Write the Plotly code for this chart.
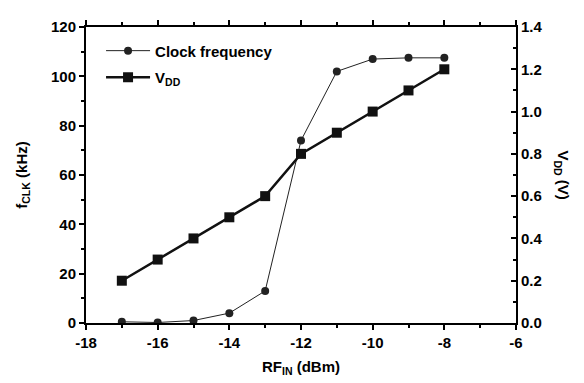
import plotly.graph_objects as go

rf_in = [-17, -16, -15, -14, -13, -12, -11, -10, -9, -8]
clock_khz = [0.5, 0.2, 1.0, 4.0, 13.0, 74.0, 102.0, 107.0, 107.5, 107.5]
vdd_v = [0.2, 0.3, 0.4, 0.5, 0.6, 0.8, 0.9, 1.0, 1.1, 1.2]

x_ticks = [-18, -16, -14, -12, -10, -8, -6]
x_labels = ["-18", "-16", "-14", "-12", "-10", "-8", "-6"]
y1_ticks = [0, 20, 40, 60, 80, 100, 120]
y1_labels = ["0", "20", "40", "60", "80", "100", "120"]
y2_ticks = [0.0, 0.2, 0.4, 0.6, 0.8, 1.0, 1.2, 1.4]
y2_labels = ["0.0", "0.2", "0.4", "0.6", "0.8", "1.0", "1.2", "1.4"]

FONT = "Liberation Sans, Arial, sans-serif"


def bold(labels):
    return ["<b>%s</b>" % s for s in labels]


fig = go.Figure()
fig.add_trace(go.Scatter(
    x=rf_in, y=clock_khz, name="<b>Clock frequency</b>", mode="lines+markers",
    legendgroup="a",
    line=dict(color="#222", width=1),
    marker=dict(symbol="circle", size=8, color="#222"),
))
fig.add_trace(go.Scatter(
    x=rf_in, y=vdd_v, name="<b>V<sub>DD</sub></b>", mode="lines+markers", yaxis="y2",
    legendgroup="b",
    line=dict(color="#111", width=2.5),
    marker=dict(symbol="square", size=10, color="#111"),
))

axis_common = dict(showline=True, linecolor="black", linewidth=2, showgrid=False,
                   zeroline=False, ticks="outside", ticklen=5, tickwidth=1.5,
                   tickcolor="black",
                   tickfont=dict(family=FONT, size=15, color="black"))

fig.update_layout(
    width=584, height=383,
    margin=dict(l=78, r=76, t=10, b=68),
    paper_bgcolor="white", plot_bgcolor="white",
    font=dict(family=FONT, color="black"),
    showlegend=True,
    legend=dict(x=0.035, y=0.975, xanchor="left", yanchor="top",
                bgcolor="rgba(0,0,0,0)", font=dict(family=FONT, size=15, color="black"),
                itemwidth=44, traceorder="grouped", tracegroupgap=4),
    xaxis=dict(range=[-18, -6], tickvals=x_ticks, ticktext=bold(x_labels),
               mirror="ticks",
               minor=dict(ticks="outside", ticklen=3, dtick=1, tickcolor="black"),
               title=dict(text="<b>RF<sub>IN</sub> (dBm)</b>", font=dict(size=15), standoff=11),
               **axis_common),
    yaxis=dict(range=[0, 120], tickvals=y1_ticks, ticktext=bold(y1_labels),
               minor=dict(ticks="outside", ticklen=3, dtick=10, tickcolor="black"),
               title=dict(text="<b>f<sub>CLK</sub> (kHz)</b>", font=dict(size=15), standoff=20),
               **axis_common),
    yaxis2=dict(range=[0, 1.4], tickvals=y2_ticks, ticktext=bold(y2_labels), overlaying="y", side="right",
                minor=dict(ticks="outside", ticklen=3, dtick=0.1, tickcolor="black"),
                **axis_common),
)
fig.update_layout(yaxis2_ticks="inside", yaxis2_minor_ticks="inside")

fig.add_annotation(text="<b>V<sub>DD</sub> (V)</b>", textangle=90, xref="paper", yref="paper",
                   x=1.0, y=0.5, xshift=58, showarrow=False, font=dict(family=FONT, size=15))

fig.write_html("out.html")
